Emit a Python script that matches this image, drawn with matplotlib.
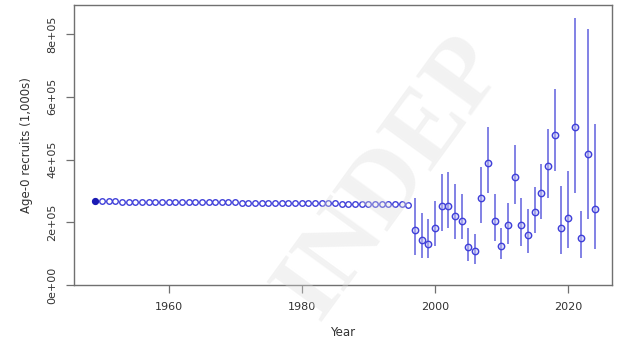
import matplotlib
matplotlib.use("Agg")
import matplotlib.pyplot as plt

# ---- data ----
fixed_years = list(range(1949, 1997))
fixed_vals = [267000, 266900, 266700, 266500, 266300, 266200, 266000, 265800,
              265600, 265500, 265300, 265100, 264900, 264800, 264600, 264400,
              264200, 264100, 263900, 263700, 263500, 263300, 263100, 262900,
              262700, 262500, 262300, 262100, 261900, 261700, 261500, 261300,
              261100, 260900, 260600, 260400, 260100, 259900, 259600, 259300,
              259000, 258700, 258400, 258000, 257600, 257200, 256800, 256400]

est_years = list(range(1997, 2025))
est_vals = [177000, 145000, 132000, 181000, 253000, 253000, 221000, 205000,
            122000, 109000, 277000, 388000, 203000, 125000, 191000, 343000,
            191000, 159000, 234000, 293000, 378000, 477000, 183000, 215000,
            504000, 149000, 418000, 242000]
est_upper = [279000, 231000, 211000, 269000, 354000, 359000, 322000, 290000,
             183000, 162000, 375000, 504000, 290000, 183000, 263000, 445000,
             279000, 242000, 311000, 386000, 498000, 626000, 317000, 365000,
             850000, 237000, 818000, 514000]
est_lower = [95000, 87000, 87000, 125000, 173000, 183000, 146000, 146000,
             77000, 66000, 199000, 295000, 141000, 82000, 130000, 258000,
             125000, 103000, 167000, 210000, 279000, 365000, 98000, 119000,
             295000, 87000, 210000, 114000]

yticks = [0, 200000, 400000, 600000, 800000]
ytick_labels = ["0e+00", "2e+05", "4e+05", "6e+05", "8e+05"]
xticks = [1960, 1980, 2000, 2020]

W, H = 619, 349
fig = plt.figure(figsize=(W / 100, H / 100), dpi=100)
ax = fig.add_axes([74 / W, 1 - 285 / H, (612 - 74) / W, (285 - 5) / H])

bar_col = (0.42, 0.42, 0.88)
pt_col = (0.25, 0.25, 0.85)

# error bars
ax.vlines(est_years, est_lower, est_upper, color=bar_col, lw=1.4, alpha=0.85, zorder=2)

# fixed series
ax.plot(fixed_years[1:], fixed_vals[1:], ls="none", marker="o", ms=4.0,
        mfc="none", mec=pt_col, mew=1.0, zorder=3)
ax.plot(fixed_years[:1], fixed_vals[:1], ls="none", marker="o", ms=4.2,
        mfc=(0.1, 0.1, 0.7), mec=(0.1, 0.1, 0.7), zorder=4)

# estimated series
ax.plot(est_years, est_vals, ls="none", marker="o", ms=4.6,
        mfc=(0.75, 0.75, 0.95, 0.5), mec=pt_col, mew=1.0, zorder=3)

ax.set_xlim(1945.8, 2026.6)
ax.set_ylim(0, 893000)

frame_col = "#707070"
for s in ax.spines.values():
    s.set_color(frame_col)
    s.set_linewidth(1.0)

ax.set_xticks(xticks)
ax.set_xticklabels([str(x) for x in xticks])
ax.set_yticks(yticks)
ax.set_yticklabels(ytick_labels, rotation=90, va="center")
ax.tick_params(axis="both", direction="out", length=6, width=0.9,
               color=frame_col, labelsize=8, labelcolor="#333333", pad=6)

ax.set_xlabel("Year", fontsize=8.5, color="#333333", labelpad=10)
ax.set_ylabel("Age-0 recruits (1,000s)", fontsize=8.5, color="#333333", labelpad=10)

# watermark
fig.text(392 / W, 1 - 178 / H, "INDEP", fontsize=74, family="Liberation Serif",
         weight="bold", color="#dcdcdc", alpha=0.35, rotation=54,
         ha="center", va="center", zorder=10)

fig.savefig("out.png", dpi=100)
